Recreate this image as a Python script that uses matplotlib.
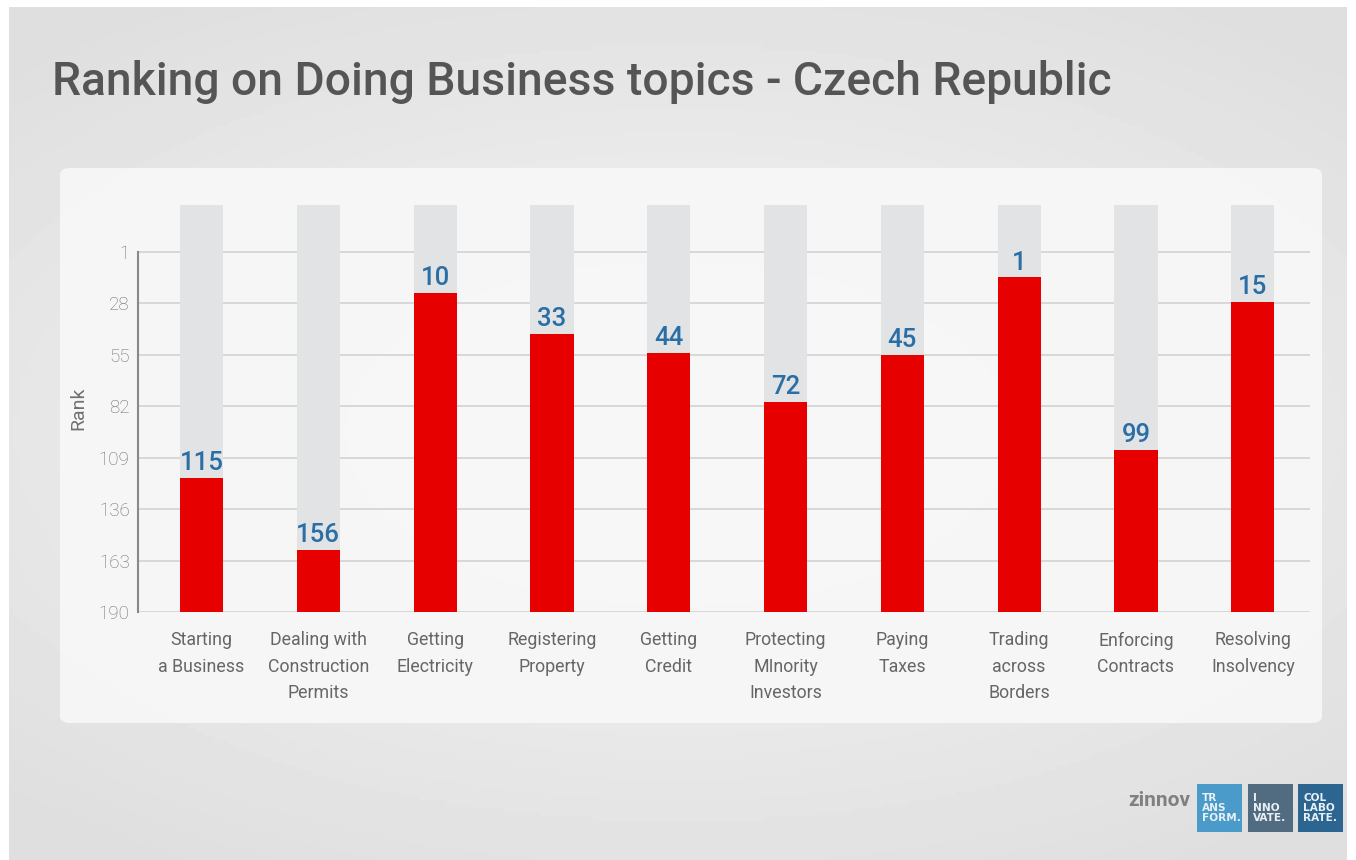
#!/usr/bin/env python3
"""Ranking on Doing Business topics - Czech Republic (bar infographic)."""
import matplotlib

matplotlib.use("Agg")
import matplotlib.pyplot as plt
import numpy as np
from matplotlib.patches import FancyBboxPatch, Rectangle

topics = [
    "Starting\na Business",
    "Dealing with\nConstruction\nPermits",
    "Getting\nElectricity",
    "Registering\nProperty",
    "Getting\nCredit",
    "Protecting\nMInority\nInvestors",
    "Paying\nTaxes",
    "Trading\nacross\nBorders",
    "Enforcing\nContracts",
    "Resolving\nInsolvency",
]
ranks = [115, 156, 10, 33, 44, 72, 45, 1, 99, 15]
rank_ticks = [1, 28, 55, 82, 109, 136, 163, 190]

W, H = 1356, 860
fig = plt.figure(figsize=(W / 100, H / 100), dpi=100)
fig.patch.set_facecolor("white")

# background gradient
bg = fig.add_axes([9 / W, 0, 1 - 18 / W, 1 - 7 / H])
yy, xx = np.mgrid[-1:1:200j, -1:1:300j]
r = np.sqrt((xx * 0.9) ** 2 + (yy * 1.1) ** 2)
bg.imshow(0.965 - 0.07 * np.clip(r, 0, 1.3), cmap="gray", vmin=0, vmax=1,
          aspect="auto", extent=[0, 1, 0, 1])
bg.set_axis_off()

# panel
bg.add_patch(FancyBboxPatch((60 / W, 1 - 723 / H), (1322 - 60) / W, (723 - 168) / H,
                            boxstyle="round,pad=0,rounding_size=0.008",
                            transform=fig.transFigure, facecolor="#f8f8f8",
                            edgecolor="none", alpha=0.9))

fig.text(52 / W, 1 - 82 / H, "Ranking on Doing Business topics - Czech Republic",
         fontsize=33.3, fontweight="medium", family="Roboto", color="#555555",
         ha="left", va="center")

left, right, top, bottom = 138, 1310, 205, 612
rect = [left / W, 1 - bottom / H, (right - left) / W, (bottom - top) / H]

# tick / grid axis
ax2 = fig.add_axes(rect)
ax2.set_ylim(190, -23.7)
x = np.arange(len(topics))
ax2.set_xlim(-0.544, 9.49)
ax2.set_yticks(rank_ticks)
ax2.set_yticklabels([str(t) for t in rank_ticks], family="Roboto", fontweight="light",
                    fontsize=13.5, color="#707070")
ax2.tick_params(axis="y", length=0, pad=6)
ax2.set_xticks(x)
ax2.set_xticklabels(topics, family="Roboto", fontsize=12.8, color="#666666",
                    linespacing=1.6, va="top")
ax2.tick_params(axis="x", length=0, pad=14)
ax2.grid(axis="y", color="#d2d2d2", lw=1.2)
ax2.set_axisbelow(True)
for s in ("top", "right", "bottom"):
    ax2.spines[s].set_visible(False)
ax2.spines["left"].set_bounds(190, 1)
ax2.spines["left"].set_color("#888888")
ax2.spines["left"].set_linewidth(1.5)
ax2.patch.set_visible(False)
ax2.set_ylabel("Rank", family="Roboto", fontsize=14, color="#707070", labelpad=8)

# bar axis
ax = fig.add_axes(rect, sharex=ax2)
ax.set_ylim(191.3, -40.1)
ax.set_axis_off()
y0, y1 = ax.get_ylim()
ax.bar(x, y1 - y0, bottom=y0, width=0.37, color="#e2e3e5", zorder=1)
ax.bar(x, [y0 - v for v in ranks], bottom=ranks, width=0.37, color="#e60000", zorder=2)
for xi, v in zip(x, ranks):
    ax.annotate(str(v), (xi, v), xytext=(0, 2), textcoords="offset points",
                ha="center", va="bottom", fontsize=18.5, fontweight="medium",
                family="Roboto", color="#2a6ea6")

# logo
fig.text(1190 / W, 1 - 800 / H, "zinnov", fontsize=15, fontweight="bold",
         family="Roboto", color="#808080", ha="right", va="center")
boxes = [("TR\nANS\nFORM.", "#4a9bc9", 1197), ("I\nNNO\nVATE.", "#516b80", 1248),
         ("COL\nLABO\nRATE.", "#2b6590", 1298)]
for txt, col, bx in boxes:
    fig.patches.append(Rectangle((bx / W, 1 - 832 / H), 45 / W, 48 / H,
                                 transform=fig.transFigure, facecolor=col,
                                 edgecolor="none"))
    fig.text((bx + 5) / W, 1 - 808 / H, txt, fontsize=7.6, fontweight="bold",
             family="DejaVu Sans", color="#e8f0f6", ha="left", va="center",
             linespacing=1.0)

fig.savefig("out.png", dpi=100)
